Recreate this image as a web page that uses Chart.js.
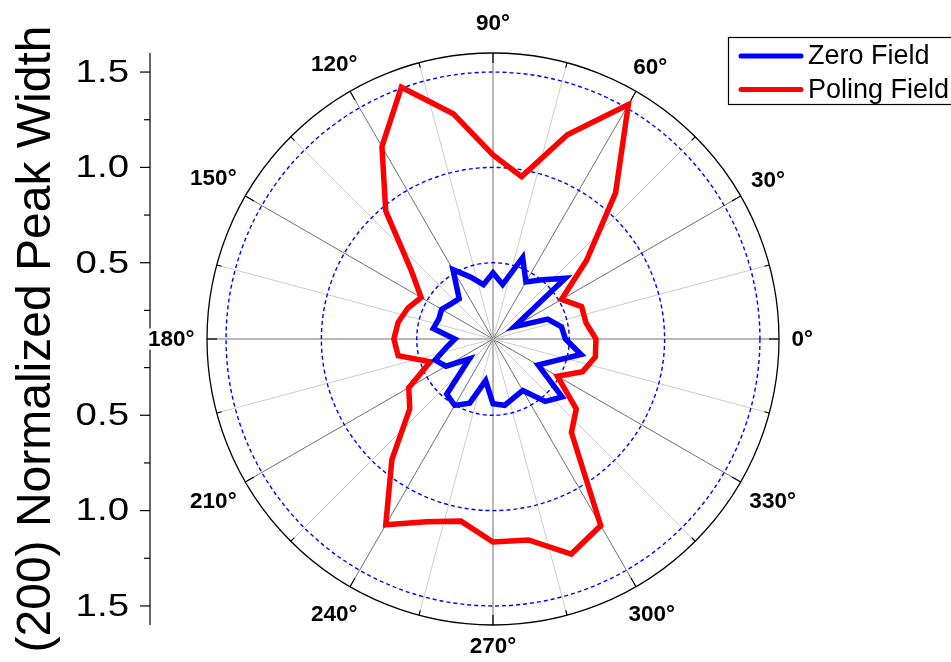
<!DOCTYPE html>
<html>
<head>
<meta charset="utf-8">
<title>(200) Normalized Peak Width</title>
<script src="https://cdn.jsdelivr.net/npm/chart.js@4/dist/chart.umd.min.js"></script>
<style>
  html, body { margin: 0; padding: 0; background: #ffffff; }
  canvas { display: block; }
</style>
</head>
<body>
<canvas id="polar" width="951" height="662"></canvas>
<script>
// Measurement directions, degrees counter-clockwise from 0°
const angles = [0, 10, 20, 30, 40, 50, 60, 70, 80, 90, 100, 110, 120, 130, 140, 150, 160, 170,
                180, 190, 200, 210, 220, 230, 240, 250, 260, 270, 280, 290, 300, 310, 320, 330, 340, 350];

// Normalized (200) peak width for each direction
const zeroField = [0.48, 0.465, 0.405, 0.23, 0.595, 0.505, 0.445, 0.555, 0.39, 0.447, 0.389, 0.446,
                   0.52, 0.376, 0.387, 0.411, 0.403, 0.418, 0.30, 0.347, 0.423, 0.385, 0.262, 0.478,
                   0.502, 0.458, 0.322, 0.44, 0.453, 0.426, 0.412, 0.527, 0.573, 0.373, 0.439, 0.569];
const polingField = [0.64, 0.595, 0.595, 0.515, 0.74, 1.10, 1.52, 1.24, 0.965, 1.065, 1.30, 1.505,
                     1.265, 0.975, 0.66, 0.535, 0.575, 0.605, 0.62, 0.605, 0.45, 0.61, 0.67, 0.925,
                     1.225, 1.12, 1.07, 1.165, 1.17, 1.30, 1.23, 0.74, 0.67, 0.49, 0.60, 0.645];

const seriesNames = ['Zero Field', 'Poling Field'];
const seriesColors = ['#0000ff', '#ff0000'];

// Radial axis
const radialMin = 0.1;
const radialMax = 1.6;
const radialMajorTicks = [0.5, 1.0, 1.5];
const radialMinorTicks = [0.25, 0.75, 1.25];
const radialTickLabels = ['0.5', '1.0', '1.5'];

// Angular axis
const angleTickLabels = [0, 30, 60, 90, 120, 150, 180, 210, 240, 270, 300, 330];
const angleGridStep = 15;

const axisTitle = '(200) Normalized Peak Width';

// The radar scale runs clockwise from 3 o'clock (startAngle 90),
// so the points are fed in the order 0°, 350°, 340°, ... 10°.
const N = angles.length;
const order = angles.map((_, i) => (N - i) % N);
const reorder = arr => order.map(k => arr[k]);
const labels = order.map(k => angles[k] + '°');

const FONT = '"Liberation Sans", Arial, Helvetica, sans-serif';

const polarFrame = {
  id: 'polarFrame',
  beforeDatasetsDraw(chart) {
    const s = chart.scales.r;
    const ctx = chart.ctx;
    const xc = s.xCenter, yc = s.yCenter;
    const R = s.getDistanceFromCenterForValue(s.max);
    const pt = (deg, r) => [xc + r * Math.cos(deg * Math.PI / 180), yc - r * Math.sin(deg * Math.PI / 180)];
    ctx.save();

    // spokes
    for (let a = 0; a < 360; a += angleGridStep) {
      const major = a % 30 === 0;
      ctx.strokeStyle = major ? '#707070' : '#cccccc';
      ctx.lineWidth = 1;
      const [x, y] = pt(a, R);
      ctx.beginPath();
      ctx.moveTo(xc, yc);
      ctx.lineTo(x, y);
      ctx.stroke();
    }

    // dashed value rings
    ctx.strokeStyle = '#0000ff';
    ctx.lineWidth = 1.4;
    ctx.setLineDash([4, 3]);
    radialMajorTicks.forEach(v => {
      ctx.beginPath();
      ctx.arc(xc, yc, s.getDistanceFromCenterForValue(v), 0, Math.PI * 2);
      ctx.stroke();
    });
    ctx.setLineDash([]);

    // outer ring
    ctx.strokeStyle = '#000000';
    ctx.lineWidth = 1.3;
    ctx.beginPath();
    ctx.arc(xc, yc, R, 0, Math.PI * 2);
    ctx.stroke();

    // ring ticks
    ctx.lineWidth = 1.2;
    for (let a = 0; a < 360; a += angleGridStep) {
      const len = a % 30 === 0 ? 10 : 5;
      const [x1, y1] = pt(a, R);
      const [x2, y2] = pt(a, R - len);
      ctx.beginPath();
      ctx.moveTo(x1, y1);
      ctx.lineTo(x2, y2);
      ctx.stroke();
    }
    ctx.restore();
  },
  afterDatasetsDraw(chart) {
    const s = chart.scales.r;
    const ctx = chart.ctx;
    const xc = s.xCenter, yc = s.yCenter;
    const R = s.getDistanceFromCenterForValue(s.max);
    ctx.save();
    ctx.fillStyle = '#000000';
    ctx.strokeStyle = '#000000';

    // left radial axis, mirrored about the centre
    const axisX = 150;
    ctx.lineWidth = 1.2;
    ctx.beginPath();
    ctx.moveTo(axisX, yc - R);
    ctx.lineTo(axisX, yc + R);
    ctx.stroke();
    ctx.font = '32px ' + FONT;
    ctx.textAlign = 'right';
    ctx.textBaseline = 'middle';
    [-1, 1].forEach(dir => {
      radialMajorTicks.forEach((v, i) => {
        const y = yc + dir * s.getDistanceFromCenterForValue(v);
        ctx.beginPath();
        ctx.moveTo(axisX - 10, y);
        ctx.lineTo(axisX, y);
        ctx.stroke();
        ctx.save();
        ctx.translate(axisX - 21, y + 1);
        ctx.scale(1.2, 1);
        ctx.fillText(radialTickLabels[i], 0, 0);
        ctx.restore();
      });
      radialMinorTicks.forEach(v => {
        const y = yc + dir * s.getDistanceFromCenterForValue(v);
        ctx.beginPath();
        ctx.moveTo(axisX - 6, y);
        ctx.lineTo(axisX, y);
        ctx.stroke();
      });
    });

    // angle labels
    ctx.font = 'bold 22.5px ' + FONT;
    ctx.textAlign = 'center';
    ctx.textBaseline = 'middle';
    angleTickLabels.forEach(a => {
      const text = a + '°';
      const w = ctx.measureText(text).width;
      const h = 17;
      const c = Math.cos(a * Math.PI / 180), sn = Math.sin(a * Math.PI / 180);
      const ext = Math.abs(c) * w / 2 + Math.abs(sn) * h / 2;
      const lift = a === 90 ? 9 : 0;
      const rr = R + 12.5 + ext + lift;
      const x = xc + rr * c, y = yc - rr * sn;
      if (a === 180) {
        ctx.fillStyle = '#ffffff';
        ctx.fillRect(x - w / 2 - 1, y - h / 2 - 2, w + 2, h + 4);
        ctx.fillStyle = '#000000';
      }
      ctx.fillText(text, x, y + 1);
    });

    // axis title
    ctx.save();
    ctx.translate(50, yc);
    ctx.rotate(-Math.PI / 2);
    ctx.font = '48px ' + FONT;
    ctx.textAlign = 'center';
    ctx.textBaseline = 'alphabetic';
    ctx.fillText(axisTitle, 0, 0);
    ctx.restore();

    // legend
    ctx.lineWidth = 1.2;
    ctx.strokeRect(728.5, 37.5, 260, 67);
    ctx.font = '27px ' + FONT;
    ctx.textAlign = 'left';
    ctx.textBaseline = 'middle';
    chart.data.datasets.forEach((ds, i) => {
      const y = 56 + i * 33.5;
      ctx.strokeStyle = ds.borderColor;
      ctx.lineWidth = 5;
      ctx.lineCap = 'round';
      ctx.beginPath();
      ctx.moveTo(741, y);
      ctx.lineTo(801, y);
      ctx.stroke();
      ctx.fillStyle = '#000000';
      ctx.fillText(ds.label, 808, y + 1);
    });
    ctx.restore();
  }
};

new Chart(document.getElementById('polar'), {
  type: 'radar',
  data: {
    labels: labels,
    datasets: [
      { label: seriesNames[0], data: reorder(zeroField), borderColor: seriesColors[0] },
      { label: seriesNames[1], data: reorder(polingField), borderColor: seriesColors[1] }
    ]
  },
  options: {
    responsive: false,
    animation: false,
    devicePixelRatio: 1,
    layout: { padding: { left: 207, top: 53, right: 172, bottom: 37 } },
    elements: {
      line: { borderWidth: 5.5, tension: 0, fill: false, borderJoinStyle: 'miter' },
      point: { radius: 0, hoverRadius: 0, hitRadius: 0 }
    },
    plugins: {
      legend: { display: false },
      title: { display: false },
      tooltip: { enabled: false }
    },
    scales: {
      r: {
        min: radialMin,
        max: radialMax,
        startAngle: 90,
        grid: { display: false },
        angleLines: { display: false },
        pointLabels: { display: false },
        ticks: { display: false }
      }
    }
  },
  plugins: [polarFrame]
});
</script>
</body>
</html>
